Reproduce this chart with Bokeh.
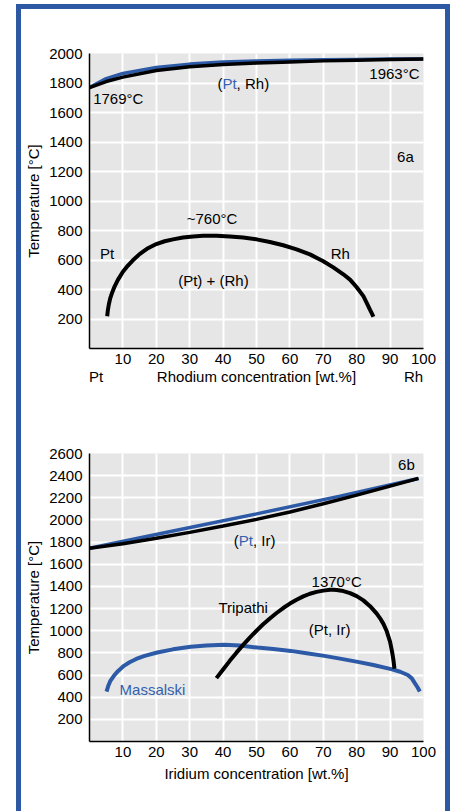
from bokeh.plotting import figure
from bokeh.models import Label, FixedTicker, Range1d, LinearAxis
from bokeh.layouts import column
from bokeh.embed import file_html
from bokeh.resources import INLINE

# ---- Pt-Rh system (6a) ----
rh_conc = [0, 5, 10, 20, 30, 40, 50, 60, 70, 80, 90, 100]
rh_liquidus = [1769, 1830, 1865, 1905, 1928, 1942, 1950, 1955, 1958, 1960, 1962, 1963]
rh_solidus = [1769, 1810, 1840, 1885, 1910, 1925, 1935, 1943, 1950, 1955, 1959, 1963]

rh_gap_conc = [5.3, 5.5, 5.8, 6.2, 6.8, 7.5, 8.5, 10, 11.5, 13, 15, 17.5, 20, 22.5, 25, 28,
               31, 34, 36, 38, 42, 46, 50, 54, 58, 62, 66, 70, 73, 76, 78, 80, 82, 83, 84,
               84.6, 85]
rh_gap_temp = [219, 260, 300, 340, 380, 420, 465, 520, 562, 598, 640, 680, 708, 727, 740, 752,
               760, 764, 765, 765, 760, 752, 740, 722, 700, 672, 638, 592, 550, 503, 467, 415,
               355, 310, 262, 235, 215]

# ---- Pt-Ir system (6b) ----
ir_liq_conc = [0, 25, 50, 75, 98.5]
ir_liquidus = [1745, 1900, 2055, 2215, 2375]
ir_sol_conc = [0, 10, 20, 30, 40, 50, 60, 70, 80, 90, 98.5]
ir_solidus = [1745, 1785, 1835, 1888, 1945, 2005, 2072, 2146, 2224, 2306, 2375]

massalski_conc = [5.1, 5.6, 6.2, 7.3, 8.5, 10.3, 12, 14, 16.5, 20.3, 25, 30.3, 35, 40.3, 45,
                  50.3, 55, 60.3, 65, 70.3, 75, 80.3, 85, 90.3, 93, 95.3, 96.5, 97.3, 98.2,
                  98.9]
massalski_temp = [451, 500, 545, 593, 635, 683, 715, 745, 773, 803, 832, 855, 867, 873, 866,
                  848, 835, 818, 797, 773, 748, 719, 690, 653, 630, 600, 570, 532, 490, 451]

tripathi_conc = [38, 40, 42, 44, 46, 48, 50, 52, 54, 56, 58, 60, 62, 64, 66, 68, 70, 72, 73,
                 74, 76, 78, 80, 82, 84, 86, 87, 88, 89, 90, 90.6, 91, 91.3]
tripathi_temp = [572, 650, 728, 802, 872, 938, 1000, 1058, 1111, 1160, 1205, 1245, 1280, 1310,
                 1334, 1351, 1362, 1369, 1370, 1368, 1358, 1340, 1312, 1274, 1222, 1154, 1112,
                 1062, 995, 900, 810, 735, 656]

x_ticks = [10, 20, 30, 40, 50, 60, 70, 80, 90, 100]
rh_y_ticks = list(range(200, 2001, 200))
ir_y_ticks = list(range(200, 2601, 200))
rh_bottom_ticks = [2, 50, 97]
rh_bottom_names = ["Pt", "Rhodium concentration [wt.%]", "Rh"]

FONT = "Liberation Sans"
FS = "15px"
BLUE = "#2d5aa6"
TEXT_BLUE = "#3461ae"
PANEL = "#e6e6e6"


def text_style(ax):
    ax.axis_line_color = "black"
    ax.axis_line_width = 1.5
    ax.major_tick_in = 0
    ax.major_tick_out = 0
    ax.minor_tick_line_color = None
    ax.major_label_text_font = FONT
    ax.major_label_text_font_size = FS
    ax.major_label_text_color = "black"
    ax.axis_label_text_font = FONT
    ax.axis_label_text_font_size = FS
    ax.axis_label_text_font_style = "normal"
    ax.axis_label_text_color = "black"


def base_figure(height, y_max, yticks, xlabel, top, bottom):
    p = figure(width=424, height=height, x_range=Range1d(0, 100), y_range=Range1d(0, y_max),
               output_backend="svg", toolbar_location=None,
               min_border_left=68, min_border_right=22,
               min_border_top=top, min_border_bottom=bottom,
               background_fill_color=PANEL, border_fill_color="white",
               outline_line_color=None)
    xt = FixedTicker(ticks=x_ticks)
    yt = FixedTicker(ticks=yticks)
    p.xaxis.ticker = xt
    p.yaxis.ticker = yt
    p.xgrid.ticker = xt
    p.ygrid.ticker = yt
    for g in (p.xgrid, p.ygrid):
        g.grid_line_color = "white"
        g.grid_line_width = 2
    text_style(p.xaxis[0])
    text_style(p.yaxis[0])
    p.xaxis.major_label_standoff = 5
    p.yaxis.major_label_standoff = 7
    p.xaxis.axis_label_standoff = 5
    p.yaxis.axis_label_standoff = 4
    if xlabel:
        p.xaxis.axis_label = xlabel
    p.yaxis.axis_label = "Temperature [°C]"
    return p


def label(p, x, y, text, align="center", color="black", dx=0):
    p.add_layout(Label(x=x, y=y, text=text, text_align=align, text_baseline="middle",
                       text_font=FONT, text_font_size=FS, text_color=color, x_offset=dx))


# ---- chart 6a ----
p1 = base_figure(410, 2000, rh_y_ticks, None, 44, 71)
names_axis = LinearAxis(ticker=FixedTicker(ticks=rh_bottom_ticks),
                        major_label_overrides=dict(zip(rh_bottom_ticks, rh_bottom_names)))
text_style(names_axis)
names_axis.axis_line_color = None
names_axis.major_label_standoff = 1
p1.add_layout(names_axis, "below")

p1.line(rh_conc, rh_liquidus, line_color=BLUE, line_width=3.5)
p1.line(rh_conc, rh_solidus, line_color="black", line_width=3.5)
p1.line(rh_gap_conc, rh_gap_temp, line_color="black", line_width=4)

label(p1, 1.1, 1695, "1769°C", align="left")
label(p1, 98.8, 1866, "1963°C", align="right")
label(p1, 38.3, 1796, "(", align="left")
label(p1, 38.3, 1796, "Pt", align="left", color=TEXT_BLUE, dx=5)
label(p1, 38.3, 1796, ", Rh)", align="left", dx=19.2)
label(p1, 94.6, 1302, "6a")
label(p1, 36.7, 881, "~760°C")
label(p1, 5.3, 644, "Pt")
label(p1, 75.1, 644, "Rh")
label(p1, 37.1, 461, "(Pt) + (Rh)")

# ---- chart 6b ----
p2 = base_figure(392, 2600, ir_y_ticks, "Iridium concentration [wt.%]", 34, 70)
p2.line(ir_liq_conc, ir_liquidus, line_color=BLUE, line_width=3.5)
p2.line(ir_sol_conc, ir_solidus, line_color="black", line_width=3.5)
p2.line(massalski_conc, massalski_temp, line_color=BLUE, line_width=4)
p2.line(tripathi_conc, tripathi_temp, line_color="black", line_width=4)

label(p2, 94.9, 2503, "6b")
label(p2, 43.2, 1811, "(", align="left")
label(p2, 43.2, 1811, "Pt", align="left", color=TEXT_BLUE, dx=5)
label(p2, 43.2, 1811, ", Ir)", align="left", dx=19.2)
label(p2, 74.0, 1441, "1370°C")
label(p2, 46.0, 1210, "Tripathi")
label(p2, 71.9, 1014, "(Pt, Ir)")
label(p2, 9.0, 473, "Massalski", align="left", color=TEXT_BLUE)

layout = column(p1, p2, margin=(4, 0, 0, 16),
                styles={"border": "5px solid #2c58a4", "border-bottom": "none",
                        "background-color": "white"})

open("out.html", "w").write(file_html(layout, INLINE))
